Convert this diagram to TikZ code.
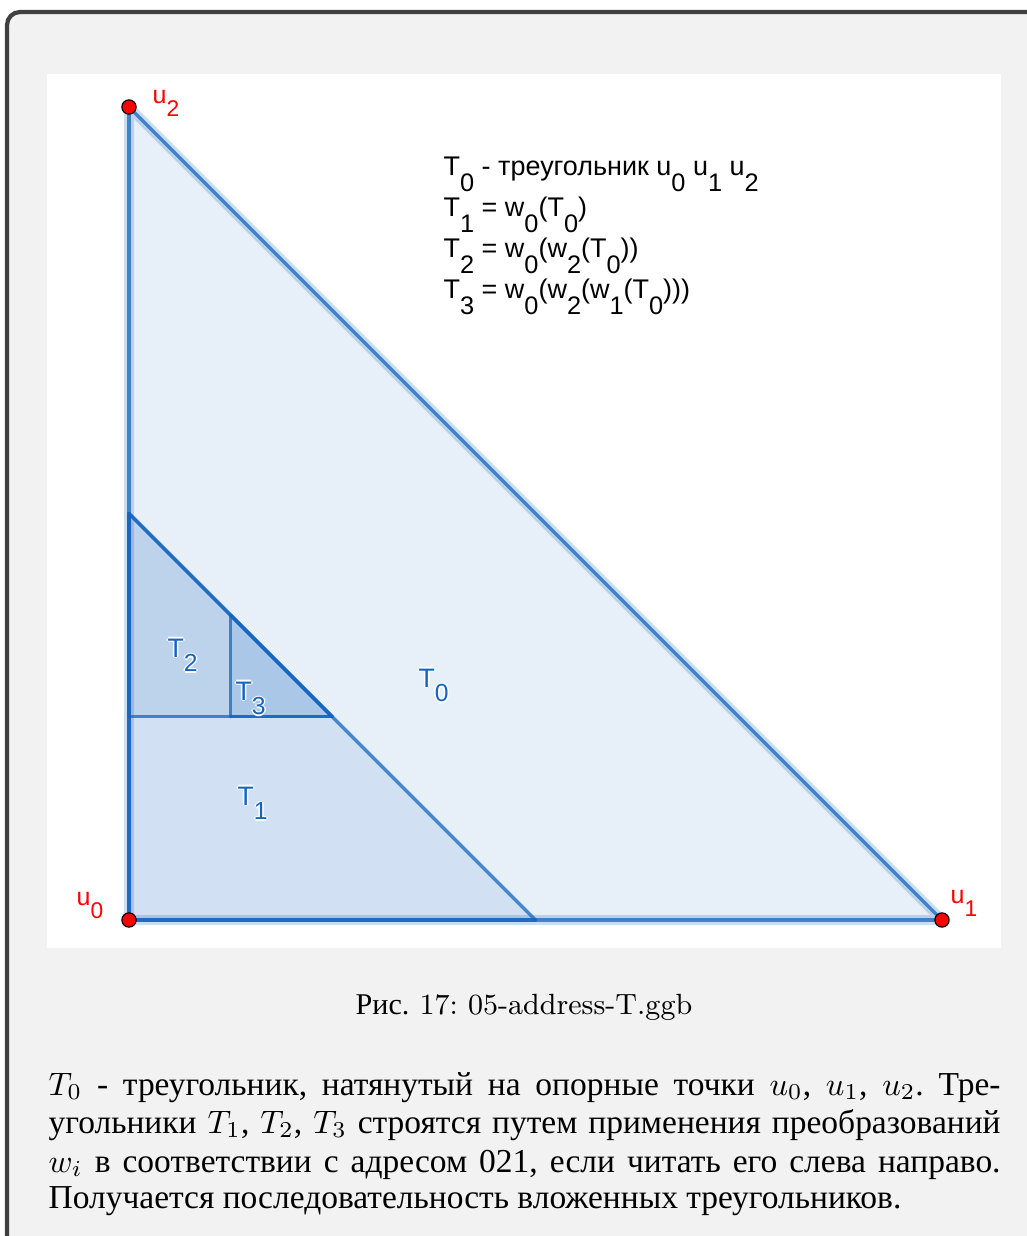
\documentclass[tikz,border=0pt]{standalone}
\usepackage{fontspec}
\newfontfamily\cyr[Scale=1.03]{Liberation Serif}
\newfontfamily\ggb{Liberation Sans}
\definecolor{ggblue}{RGB}{21,101,192}
\definecolor{framegray}{RGB}{64,64,64}
\definecolor{bgray}{RGB}{242,242,242}
\definecolor{ptred}{RGB}{255,0,0}
\frenchspacing
\newcommand\us[1]{\raisebox{-4.3pt}{\fontsize{7}{8}\selectfont #1}}
\newcommand\ts[1]{\raisebox{-4.6pt}{\fontsize{7.6}{8}\selectfont #1}}
\newcommand\bs[1]{\raisebox{-5.2pt}{\fontsize{7.8}{8}\selectfont #1}}
\newcommand\halo[1]{\leavevmode\rlap{\color{white}\hspace{-0.45pt}#1}\rlap{\color{white}\hspace{0.45pt}#1}\rlap{\color{white}\raisebox{0.45pt}{#1}}\rlap{\color{white}\raisebox{-0.45pt}{#1}}#1}
\tikzset{
  trifill/.style={fill=ggblue, fill opacity=0.1},
  halo0/.style={draw=ggblue, draw opacity=0.22, line width=3pt, line join=round},
  edge/.style={draw=ggblue, draw opacity=0.75, line width=1pt, line cap=round},
  vpt/.style={circle, fill=ptred, draw=black, line width=0.35pt, inner sep=0pt, minimum size=4.4pt},
  ulabel/.style={anchor=base west, inner sep=0pt, text=ptred, font=\ggb\fontsize{7.7}{9}\selectfont},
  tlabel/.style={anchor=base west, inner sep=0pt, text=ggblue, font=\ggb\fontsize{8.2}{9}\selectfont},
  info/.style={anchor=base west, inner sep=0pt, text=black, font=\ggb\fontsize{8.3}{9}\selectfont},
  body/.style={anchor=base west, inner sep=0pt, text=black, font=\cyr\fontsize{10}{12}\selectfont},
}
\begin{document}
\begin{tikzpicture}[x=0.3077pt,y=-0.3077pt]
\useasboundingbox (0,0) rectangle (1027,1236);
\clip (0,0) rectangle (1027,1236);
\fill[white] (0,0) rectangle (1027,1236);
\draw[framegray, line width=1.3pt, fill=bgray, rounded corners=4pt] (7,12) rectangle (1070,1280);
\fill[white] (47,74) rectangle (1001,948);

\coordinate (u0) at (129,920);
\coordinate (u1) at (942,920);
\coordinate (u2) at (129,107);
\coordinate (m01) at (535.5,920);
\coordinate (m02) at (129,513.5);
\coordinate (a) at (129,716.75);
\coordinate (b) at (332.25,716.75);
\coordinate (c) at (230.625,716.75);
\coordinate (d) at (230.625,615.125);

% fills
\fill[trifill] (u0) -- (u1) -- (u2) -- cycle;
\fill[trifill] (u0) -- (m01) -- (m02) -- cycle;
\fill[trifill] (a) -- (b) -- (m02) -- cycle;
\fill[trifill] (c) -- (b) -- (d) -- cycle;

% T0 halo and edges
\draw[halo0] (u0) -- (u1) -- (u2) -- cycle;
\draw[edge] (u0) -- (u1);
\draw[edge] (u1) -- (u2);
\draw[edge] (u2) -- (u0);
% T1
\draw[edge] (u0) -- (m01);
\draw[edge] (m01) -- (m02);
\draw[edge] (m02) -- (u0);
% T2
\draw[edge] (a) -- (b);
\draw[edge] (b) -- (m02);
\draw[edge] (m02) -- (a);
% T3
\draw[edge] (c) -- (b);
\draw[edge] (b) -- (d);
\draw[edge] (d) -- (c);

% points
\node[vpt] (p0) at (u0) {};
\node[vpt] (p1) at (u1) {};
\node[vpt] (p2) at (u2) {};
\node[ulabel] (lu0) at (76,905) {u\us{0}};
\node[ulabel] (lu1) at (950,903) {u\us{1}};
\node[ulabel] (lu2) at (152,103) {u\us{2}};

% triangle labels
\node[tlabel] (lt0) at (418,687) {\halo{T\ts{0}}};
\node[tlabel] (lt1) at (237,805) {\halo{T\ts{1}}};
\node[tlabel] (lt2) at (167,657) {\halo{T\ts{2}}};
\node[tlabel] (lt3) at (235,700) {\halo{T\ts{3}}};

% info text
\node[info] (i1) at (443,175) {T\bs{0} - треугольник u\bs{0} u\bs{1} u\bs{2}};
\node[info] (i2) at (443,216) {T\bs{1} = w\bs{0}(T\bs{0})};
\node[info] (i3) at (443,257) {T\bs{2} = w\bs{0}(w\bs{2}(T\bs{0}))};
\node[info] (i4) at (443,298) {T\bs{3} = w\bs{0}(w\bs{2}(w\bs{1}(T\bs{0})))};

% caption
\node[anchor=base, inner sep=0pt, font=\fontsize{9}{11}\selectfont] (cap) at (524,1014) {{\cyr Рис.}\ 17: 05-address-T.ggb};

% body
\node[body] (b1) at (48,1095) {\makebox[292.9pt][s]{$T_0$ - треугольник, натянутый на опорные точки $u_0$, $u_1$, $u_2$. Тре-}};
\node[body] (b2) at (48,1133) {\makebox[292.9pt][s]{угольники $T_1$, $T_2$, $T_3$ строятся путем применения преобразований}};
\node[body] (b3) at (48,1172) {\makebox[292.9pt][s]{$w_i$ в соответствии с адресом 021, если читать его слева направо.}};
\node[body] (b4) at (48,1208) {Получается последовательность вложенных треугольников.};
\end{tikzpicture}
\end{document}
